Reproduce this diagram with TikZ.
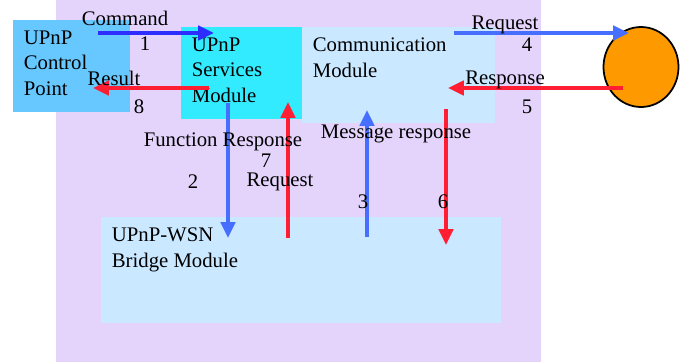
\documentclass[tikz,border=0pt]{standalone}
\usepackage{fontspec}
\setmainfont{Liberation Serif}
\usetikzlibrary{positioning}
\usetikzlibrary{arrows.meta}
\usetikzlibrary{shapes.geometric}
\definecolor{bgLav}{RGB}{228,212,252}
\definecolor{cpBlue}{RGB}{102,200,255}
\definecolor{smCyan}{RGB}{50,235,255}
\definecolor{modBlue}{RGB}{202,232,255}
\definecolor{cmdBlue}{RGB}{45,45,255}
\definecolor{flowBlue}{RGB}{70,110,255}
\definecolor{flowRed}{RGB}{255,30,50}
\definecolor{nodeOrange}{RGB}{255,153,0}
\def\flowWidth{2.3pt}
\tikzset{% module and flow styles
  panel/.style    = {rectangle, draw=none, inner sep=0, anchor=north west},
  module/.style   = {panel, fill=modBlue},
  modlabel/.style = {anchor=north west, align=left, inner sep=0, xshift=6pt, yshift=-6pt},
  blue flow/.style = {draw=flowBlue, line width=\flowWidth, -{Triangle[length=9pt,width=8pt]}},
  red flow/.style  = {draw=flowRed, line width=\flowWidth, -{Triangle[length=9pt,width=8pt]}},
  flowtext/.style  = {inner sep=0},
}
\begin{document}
\begin{tikzpicture}[font=\fontsize{11.8}{14.5}\selectfont]
        \useasboundingbox (0,0) rectangle (13.62,-7.24);

        \node[panel, fill=bgLav, minimum width=9.7cm, minimum height=7.24cm] at (1.12,0) (BG) {};

        \node[panel, fill=cpBlue, minimum width=2.34cm, minimum height=1.84cm,
          label={[modlabel]north west:UPnP\\Control\\Point}] at (0.26,-0.40) (CP) {};

        \node[module, minimum width=3.86cm, minimum height=1.92cm,
          label={[modlabel]north west:Communication\\Module}] at (6.04,-0.54) (CM) {};

        \node[panel, fill=smCyan, minimum width=2.42cm, minimum height=1.84cm,
          label={[modlabel]north west:UPnP\\Services\\Module}] at (3.62,-0.54) (SM) {};

        \node[module, minimum width=8.0cm, minimum height=2.12cm,
          label={[modlabel]north west:UPnP-WSN\\Bridge Module}] at (2.02,-4.34) (BM) {};

        \node[ellipse, draw=black, line width=1pt, fill=nodeOrange, minimum width=1.5cm,
          minimum height=1.6cm] at (12.82,-1.34) (DEV) {};

        % end points of the flows
        \coordinate (cmdS) at (1.96,-0.66);
        \coordinate (cmdE) at (4.28,-0.66);
        \coordinate (resS) at (4.18,-1.76);
        \coordinate (resE) at (1.86,-1.76);
        \coordinate (reqS) at (9.08,-0.66);
        \coordinate (reqE) at (12.58,-0.66);
        \coordinate (rspS) at (12.46,-1.76);
        \coordinate (rspE) at (8.96,-1.76);

        \coordinate (fnS) at (4.56,-2.06);
        \coordinate (fnE) at (4.56,-4.76);
        \coordinate (frS) at (5.76,-4.76);
        \coordinate (frE) at (5.76,-2.04);
        \coordinate (mrS) at (7.34,-4.74);
        \coordinate (mrE) at (7.34,-2.20);
        \coordinate (rqS) at (8.92,-2.18);
        \coordinate (rqE) at (8.92,-4.90);

        \draw[blue flow, draw=cmdBlue] (cmdS) -- (cmdE);
        \draw[red flow] (resS) -- (resE);
        \draw[blue flow] (reqS) -- (reqE);
        \draw[red flow] (rspS) -- (rspE);

        \draw[blue flow] (fnS) -- (fnE);
        \draw[red flow] (frS) -- (frE);
        \draw[blue flow] (mrS) -- (mrE);
        \draw[red flow] (rqS) -- (rqE);

        % flow texts
        \node[flowtext] at (2.50,-0.36) (tCmd) {Command};
        \node[flowtext] at (2.90,-0.88) (nOne) {1};
        \node[flowtext] at (2.28,-1.56) (tRes) {Result};
        \node[flowtext] at (2.78,-2.14) (nEight) {8};
        \node[flowtext] at (10.10,-0.50) (tReq) {Request};
        \node[flowtext] at (10.54,-0.90) (nFour) {4};
        \node[flowtext] at (10.10,-1.60) (tRsp) {Response};
        \node[flowtext] at (10.54,-2.14) (nFive) {5};

        \node[flowtext] at (4.46,-2.84) (tFnRsp) {Function Response};
        \node[flowtext] at (5.32,-3.22) (nSeven) {7};
        \node[flowtext] at (3.86,-3.64) (nTwo) {2};
        \node[flowtext] at (5.60,-3.64) (tReq2) {Request};
        \node[flowtext] at (7.92,-2.68) (tMsgRsp) {Message response};
        \node[flowtext] at (7.26,-4.04) (nThree) {3};
        \node[flowtext] at (8.86,-4.04) (nSix) {6};

\end{tikzpicture}
\end{document}
